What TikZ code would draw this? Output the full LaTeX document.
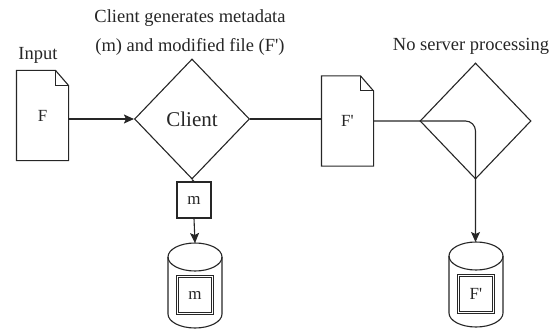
\documentclass[tikz,border=0pt]{standalone}
\usepackage{fontspec}
\setmainfont{Liberation Serif}
\usetikzlibrary{shapes.geometric,arrows.meta}
\newcommand{\pr}{\textquotesingle}

\begin{document}
\begin{tikzpicture}[x=1pt,y=1pt,
  line width=1.1pt,
  ink/.style={draw=black!85, text=black!85},
  arr/.style={ink, -{Stealth[length=10pt,width=9pt,inset=2pt]}},
  docbox/.style={minimum width=51pt, minimum height=89pt, inner sep=0pt, text=black!85, font=\fontsize{17}{20}\selectfont},
  decision/.style={ink, diamond, inner sep=0pt},
  smallbox/.style={ink, draw, rectangle, inner sep=0pt, minimum width=34pt, minimum height=36pt, font=\fontsize{17}{20}\selectfont},
  innerbox/.style={draw=black!85, text=black!85, double=white, double distance=1.4pt, line width=0.9pt,
    rectangle, inner sep=0pt, minimum width=35pt, minimum height=37pt, font=\fontsize{17}{20}\selectfont},
  caption/.style={text=black!85, align=center, font=\fontsize{18.5}{29}\selectfont},
  dbcyl/.pic={
    \draw[draw=black!85] (-27pt,0pt) -- (-27pt,-57pt)
      arc[start angle=180, end angle=360, x radius=27pt, y radius=14pt] -- (27pt,0pt);
    \draw[draw=black!85] (0pt,0pt) ellipse[x radius=27pt, y radius=14pt];
    \coordinate (-top) at (0pt,14pt);
    \coordinate (-mid) at (0pt,-38pt);
  }
]
\useasboundingbox (0,0) rectangle (560,-329);

% input document F
\node[docbox] (docF) at (42.5,-115.5) {F};
\draw[draw=black!85] (docF.south west) -- (docF.north west) -- ([xshift=-13pt]docF.north east)
  -- ([yshift=-15pt]docF.north east) -- (docF.south east) -- cycle;
\draw[draw=black!85] ([xshift=-13pt]docF.north east) |- ([yshift=-15pt]docF.north east);
\node[caption] (inlbl) at (38,-55) {Input};

% client decision
\node[decision, draw, minimum width=115pt, minimum height=120pt,
  font=\fontsize{21}{24}\selectfont] (client) at (192,-119) {Client};
\node[caption] (clbl) at (190,-32.5) {Client generates metadata\\(m) and modified file (F\pr)};

% modified document F'
\node[docbox] (docFp) at (347.5,-121) {F\pr};
\draw[draw=black!85] (docFp.south west) -- (docFp.north west) -- ([xshift=-13pt]docFp.north east)
  -- ([yshift=-15pt]docFp.north east) -- (docFp.south east) -- cycle;
\draw[draw=black!85] ([xshift=-13pt]docFp.north east) |- ([yshift=-15pt]docFp.north east);

% server decision
\node[decision, draw, minimum width=111pt, minimum height=116pt] (server) at (475.5,-121) {};
\node[caption] (slbl) at (471,-46) {No server processing};

% metadata box
\node[smallbox] (mbox) at (194,-200) {m};

% storage cylinders with their contents
\pic (db1) at (195,-257) {dbcyl};
\pic (db2) at (476,-256) {dbcyl};
\node[innerbox] (db1box) at (db1-mid) {m};
\node[innerbox] (db2box) at (db2-mid) {F\pr};

% connectors
\draw[arr] (docF.east |- client.west) -- (client.west);
\draw[ink] (client.east) -- (client.east -| docFp.west);
\draw[arr, rounded corners=10pt] (docFp.east |- server.west) -- (server.center) -- (server.center |- db2-top);
\draw[ink] (client.south) -- (mbox.north);
\draw[arr] (mbox.south) -- (db1-top);
\end{tikzpicture}
\end{document}
